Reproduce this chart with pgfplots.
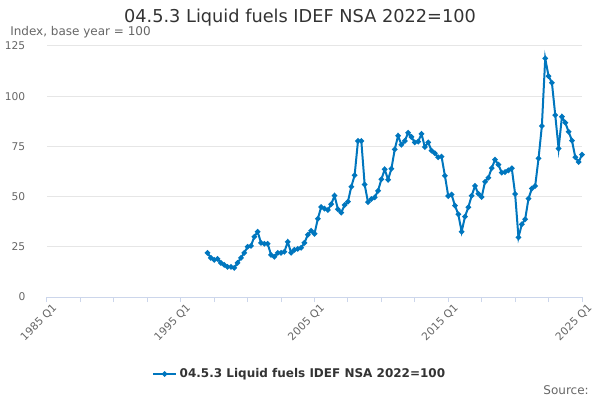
\documentclass[border=0pt]{standalone}
\usepackage{pgfplots}
\pgfplotsset{compat=1.18}
\usepackage{fontspec}
\setmainfont{DejaVu Sans}
\definecolor{series}{RGB}{0,118,190}
\definecolor{gridc}{RGB}{230,230,230}
\definecolor{axisc}{RGB}{204,214,235}
\definecolor{titlec}{RGB}{51,51,51}
\definecolor{labc}{RGB}{102,102,102}
\begin{document}
\begin{tikzpicture}
\useasboundingbox (0,0) rectangle (450pt,300pt);
\begin{axis}[
  at={(35.25pt,77.25pt)}, anchor=south west,
  scale only axis, width=401.25pt, height=188.25pt,
  xmin=0, xmax=160, ymin=0, ymax=125,
  enlargelimits=false, clip=false,
  axis lines*=left,
  y axis line style={draw=none},
  x axis line style={draw=axisc, line width=0.75pt},
  ymajorgrids, grid style={gridc, line width=0.75pt},
  ytick={0,25,50,75,100,125},
  ytick style={draw=none},
  xtick={0,40,80,120,160},
  xticklabels={1985 Q1,1995 Q1,2005 Q1,2015 Q1,2025 Q1},
  minor xtick={10,20,30,50,60,70,90,100,110,130,140,150},
  tick align=outside, major tick length=3.75pt, minor tick length=3.75pt,
  xtick style={draw=axisc, line width=0.75pt},
  xminorgrids=false,
  /pgf/number format/assume math mode=true,
  ticklabel style={font=\fontsize{8}{9}\selectfont, text=labc},
  yticklabel style={anchor=east, xshift=-9pt},
  xticklabel style={rotate=45, anchor=north east, inner sep=1pt, xshift=3pt, yshift=-2pt},
  legend style={at={(axis description cs:0.473,-0.307)}, anchor=center, draw=none, fill=none,
    font=\fontsize{9}{11}\selectfont\bfseries, text=titlec},
  legend cell align=left,
]
\addplot[series, line width=1.5pt, mark=*, mark size=1.2pt, mark options={fill=series, draw=series}]
coordinates {
(48,22)(49,19.5)(50,18.5)(51,19)(52,17)(53,16)(54,15)(55,15)(56,14.5)(57,17)
(58,19.5)(59,22)(60,25)(61,25.5)(62,30)(63,32.5)(64,27)(65,26.5)(66,26.5)(67,21)
(68,20)(69,22)(70,22)(71,22.5)(72,27.5)(73,22)(74,23.5)(75,24)(76,24.5)(77,27)
(78,31)(79,33)(80,31.5)(81,39)(82,44.8)(83,44)(84,43.3)(85,46.2)(86,50.5)(87,43.7)
(88,42)(89,45.8)(90,47.5)(91,54.9)(92,60.6)(93,77.7)(94,77.7)(95,56)(96,47.2)(97,48.8)
(98,49.6)(99,52.9)(100,58.6)(101,63.6)(102,58.4)(103,63.9)(104,73.5)(105,80.3)(106,75.8)(107,77.7)
(108,81.8)(109,79.7)(110,77)(111,77.4)(112,81.2)(113,74.7)(114,77)(115,72.9)(116,71.6)(117,69.6)
(118,69.9)(119,60.4)(120,50.3)(121,51)(122,45.5)(123,41.2)(124,32.5)(125,40)(126,44.7)(127,50.4)
(128,55.3)(129,51.4)(130,49.8)(131,57.4)(132,59.4)(133,64.2)(134,68.4)(135,65.9)(136,61.9)(137,62.2)
(138,63.1)(139,64.1)(140,51.3)(141,29.7)(142,36.2)(143,38.7)(144,49)(145,54)(146,55.3)(147,69)
(148,85.2)(149,118.8)(150,110)(151,106.7)(152,90.6)(153,73.9)(154,89.8)(155,86.8)(156,82.3)(157,77.9)
(158,69.6)(159,67.2)(160,70.9)
};
\addlegendentry{04.5.3 Liquid fuels IDEF NSA 2022=100}
\end{axis}
\node[anchor=center, text=titlec, font=\fontsize{13.3}{15}\selectfont] at (225pt,286.5pt) {04.5.3 Liquid fuels IDEF NSA 2022=100};
\node[anchor=west, text=labc, font=\fontsize{9}{11}\selectfont, inner sep=0pt] at (7.5pt,276pt) {Index, base year = 100};
\node[anchor=east, text=labc, font=\fontsize{9}{11}\selectfont, inner sep=0pt] at (441.75pt,7.5pt) {Source:};
\end{tikzpicture}
\end{document}
